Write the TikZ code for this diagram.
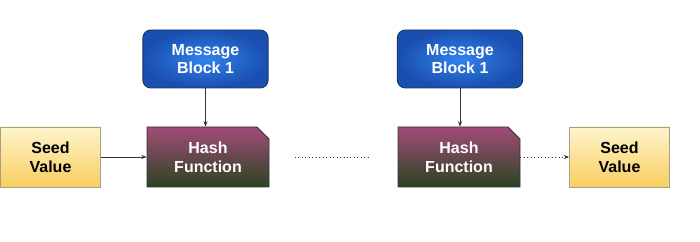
\documentclass[tikz,border=0pt]{standalone}
\usepackage{fontspec}
\setmainfont{Liberation Sans}
\usetikzlibrary{shapes.misc,arrows.meta}
\definecolor{msgin}{HTML}{3282EC}
\definecolor{msgout}{HTML}{1A4FB0}
\definecolor{msgborder}{HTML}{1C3668}
\definecolor{hashtop}{HTML}{A24C78}
\definecolor{hashbot}{HTML}{2A4420}
\definecolor{seedtop}{HTML}{FEF4CC}
\definecolor{seedbot}{HTML}{F8CF60}
\definecolor{seedborder}{HTML}{A89F86}
\definecolor{linec}{HTML}{333333}
\begin{document}
\begin{tikzpicture}[x=0.75pt,y=-0.75pt,
  lbl/.style={font=\fontsize{12}{14}\selectfont\bfseries, align=center, inner sep=0pt},
  seedbox/.style={lbl, rectangle, draw=seedborder, line width=0.6pt, top color=seedtop, bottom color=seedbot, minimum width=75pt, minimum height=45pt, text=black},
  msgbox/.style={lbl, rectangle, rounded corners=6pt, draw=msgborder, line width=0.7pt, shading=radial, inner color=msgin, outer color=msgout, minimum width=94pt, minimum height=43.5pt, text=white},
  hashbox/.style={lbl, chamfered rectangle, chamfered rectangle corners=north east, chamfered rectangle xsep=4.5pt, chamfered rectangle ysep=4.5pt, draw=black!80, line width=0.6pt, top color=hashtop, bottom color=hashbot, minimum width=91.5pt, minimum height=45pt, text=white},
  conn/.style={draw=linec, line width=0.6pt, -{Stealth[length=4pt,width=3pt]}},
  dotconn/.style={draw=linec, line width=0.6pt, dotted}
]
\useasboundingbox (0,0) rectangle (700,242);
\fill[white] (0,0) rectangle (700,242);
\node[seedbox] (seed1) at (50.5,157) {Seed\\Value};
\node[msgbox] (msg1) at (205.5,59) {Message\\Block 1};
\node[hashbox] (hash1) at (208,157) {Hash\\Function};
\node[msgbox] (msg2) at (460,59) {Message\\Block 1};
\node[hashbox] (hash2) at (459,157) {Hash\\Function};
\node[seedbox] (seed2) at (619.5,157) {Seed\\Value};
\coordinate (d1) at (295,157);
\coordinate (d2) at (370,157);
\draw[conn] (msg1.south) -- (msg1.south |- hash1.north);
\draw[conn] (msg2.south) -- (msg2.south |- hash2.north);
\draw[conn] (seed1.east) -- (hash1.west);
\draw[dotconn] (d1) -- (d2);
\draw[dotconn, -{Stealth[length=4pt,width=3pt]}] (hash2.east) -- (seed2.west);
\end{tikzpicture}
\end{document}
